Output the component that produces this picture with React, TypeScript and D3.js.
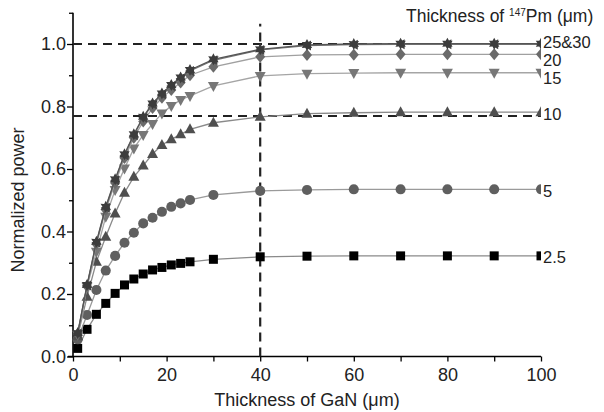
import React, {useEffect, useRef} from 'react';
import * as d3 from "d3";

// GaN thickness (um)
const thickness = [1, 3, 5, 7, 9, 11, 13, 15, 17, 19, 21, 23, 25, 30, 40, 50, 60, 70, 80, 90, 100];

const pm2_5 = [0.026, 0.087, 0.135, 0.170, 0.202, 0.229, 0.248, 0.264, 0.277, 0.285, 0.293, 0.298, 0.303, 0.311, 0.319, 0.321, 0.322, 0.322, 0.322, 0.322, 0.322];
const pm5 = [0.055, 0.133, 0.213, 0.275, 0.322, 0.364, 0.396, 0.426, 0.444, 0.463, 0.479, 0.490, 0.501, 0.517, 0.530, 0.533, 0.535, 0.535, 0.535, 0.535, 0.535];
const pm10 = [0.065, 0.191, 0.303, 0.383, 0.458, 0.524, 0.575, 0.611, 0.648, 0.677, 0.695, 0.711, 0.727, 0.748, 0.767, 0.777, 0.780, 0.782, 0.782, 0.782, 0.782];
const pm15 = [0.070, 0.223, 0.335, 0.447, 0.533, 0.602, 0.666, 0.709, 0.744, 0.778, 0.802, 0.821, 0.834, 0.866, 0.898, 0.905, 0.907, 0.908, 0.908, 0.908, 0.908];
const pm20 = [0.072, 0.225, 0.360, 0.470, 0.555, 0.635, 0.700, 0.752, 0.795, 0.828, 0.853, 0.877, 0.900, 0.927, 0.959, 0.965, 0.966, 0.967, 0.967, 0.967, 0.967];
const pm25 = [0.074, 0.227, 0.364, 0.476, 0.564, 0.644, 0.708, 0.764, 0.807, 0.839, 0.866, 0.890, 0.914, 0.948, 0.981, 0.995, 0.998, 0.999, 0.999, 0.999, 0.999];
const pm30 = [0.075, 0.229, 0.367, 0.479, 0.567, 0.647, 0.711, 0.767, 0.810, 0.842, 0.869, 0.893, 0.917, 0.951, 0.983, 0.997, 1.000, 1.001, 1.001, 1.001, 1.001];

const series = [
    {name: "2.5", values: pm2_5, symbol: "square", color: "#000000", line: "#8a8a8a"},
    {name: "5", values: pm5, symbol: "circle", color: "#5f5f5f", line: "#9a9a9a"},
    {name: "10", values: pm10, symbol: "triUp", color: "#4f4f4f", line: "#8a8a8a"},
    {name: "15", values: pm15, symbol: "triDown", color: "#777777", line: "#a5a5a5"},
    {name: "20", values: pm20, symbol: "diamond", color: "#6a6a6a", line: "#a0a0a0"},
    {name: "25", values: pm25, symbol: "triLeft", color: "#444444", line: "#777777"},
    {name: "30", values: pm30, symbol: "star", color: "#3c3c3c", line: "#555555"},
];

const endLabels = [
    {text: "25&30", value: 1.006},
    {text: "20", value: 0.949},
    {text: "15", value: 0.891},
    {text: "10", value: 0.777},
    {text: "5", value: 0.53},
    {text: "2.5", value: 0.317},
];

const dashedY = [1.0, 0.77];
const dashedX = 40;

const FONT = "Arial, 'Liberation Sans', sans-serif";

function markerPath(kind: string): string {
    const r = 5;
    switch (kind) {
        case "square":
            return `M${-4.5},${-4.5}h9v9h-9Z`;
        case "circle":
            return d3.symbol(d3.symbolCircle, 80)() as string;
        case "triUp":
            return `M0,${-r - 1}L${r + 0.5},${r - 1}L${-r - 0.5},${r - 1}Z`;
        case "triDown":
            return `M0,${r + 1}L${r + 0.5},${-r + 1}L${-r - 0.5},${-r + 1}Z`;
        case "triLeft":
            return `M${-r},0L${r - 1},${-r}L${r - 1},${r}Z`;
        case "diamond":
            return `M0,${-r - 1}L${r},0L0,${r + 1}L${-r},0Z`;
        default: {
            // six-pointed star
            const pts: string[] = [];
            for (let i = 0; i < 12; i++) {
                const a = Math.PI / 6 * i - Math.PI / 2;
                const rr = i % 2 === 0 ? 6 : 3.3;
                pts.push(`${(rr * Math.cos(a)).toFixed(2)},${(rr * Math.sin(a)).toFixed(2)}`);
            }
            return "M" + pts.join("L") + "Z";
        }
    }
}

export default function App() {
    const svgRef = useRef<SVGSVGElement>(null);

    useEffect(() => {
        const svg = d3.select(svgRef.current);
        svg.selectAll("*").remove();

        const x = d3.scaleLinear().domain([0, 100]).range([73, 541]);
        const y = d3.scaleLinear().domain([0, 1.1]).range([356.5, 12.75]);

        svg.append("defs").append("clipPath").attr("id", "plotclip")
            .append("rect").attr("x", 60).attr("y", 0).attr("width", 541 - 60).attr("height", 360);

        // x axis
        const xAxis = svg.append("g").attr("transform", "translate(0,356.5)")
            .call(d3.axisBottom(x).tickValues(d3.range(0, 101, 10)).tickSize(5)
                .tickFormat(d => (+d % 20 === 0 ? String(d) : "")));
        xAxis.select(".domain").attr("stroke-width", 1.6).attr("d", "M68,0H541");
        xAxis.selectAll(".tick line").attr("stroke-width", 1.3);
        xAxis.selectAll(".tick text").attr("font-family", FONT).attr("font-size", 18).attr("fill", "#222").attr("dy", "0.9em");

        // y axis
        const yAxis = svg.append("g").attr("transform", "translate(73,0)")
            .call(d3.axisLeft(y).tickValues(d3.range(0, 11).map(i => i / 10).concat([1.1])).tickSize(5)
                .tickFormat(d => (Math.round(+d * 10) % 2 === 0 && +d <= 1.0 ? d3.format(".1f")(+d) : "")));
        yAxis.select(".domain").attr("stroke-width", 1.6).attr("d", "M0,12.75V356.5");
        yAxis.selectAll(".tick line").attr("stroke-width", 1.3)
            .attr("x2", d => (Math.round(+d * 10) % 2 === 0 ? -6 : -4));
        yAxis.selectAll(".tick text").attr("font-family", FONT).attr("font-size", 18).attr("fill", "#222").attr("x", -7);

        // reference dashed lines
        const ref = svg.append("g").attr("stroke", "#222").attr("stroke-width", 2).attr("stroke-dasharray", "9,6").attr("fill", "none");
        dashedY.forEach(v => {
            ref.append("line").attr("x1", x(0)).attr("x2", x(100)).attr("y1", y(v)).attr("y2", y(v));
        });
        ref.append("line").attr("x1", x(dashedX)).attr("x2", x(dashedX)).attr("y1", y(0)).attr("y2", y(1.065))
            .attr("stroke-width", 2.2);

        const plot = svg.append("g").attr("clip-path", "url(#plotclip)");
        const line = d3.line<number>().x((d, i) => x(thickness[i])).y(d => y(d));

        series.forEach(s => {
            const g = plot.append("g");
            g.append("path").attr("d", line(s.values)).attr("fill", "none")
                .attr("stroke", s.line).attr("stroke-width", 1.3);
            g.selectAll("path.m").data(s.values).join("path").attr("class", "m")
                .attr("d", markerPath(s.symbol))
                .attr("transform", (d, i) => `translate(${x(thickness[i])},${y(d)})`)
                .attr("fill", s.color);
        });

        // end labels
        svg.append("g").selectAll("text").data(endLabels).join("text")
            .attr("x", 543).attr("y", d => y(d.value)).attr("dy", "0.36em")
            .attr("font-family", FONT).attr("font-size", 16.5).attr("fill", "#222")
            .text(d => d.text);

        // legend title
        const title = svg.append("text").attr("x", 406).attr("y", 22)
            .attr("font-family", FONT).attr("font-size", 17.5).attr("fill", "#222");
        title.append("tspan").text("Thickness of ");
        title.append("tspan").attr("font-size", 10).attr("dy", -6).text("147");
        title.append("tspan").attr("dy", 6).text("Pm (\u03bcm)");

        // axis titles
        svg.append("text").attr("x", 307).attr("y", 406).attr("text-anchor", "middle")
            .attr("font-family", FONT).attr("font-size", 18).attr("fill", "#222")
            .text("Thickness of GaN (\u03bcm)");
        svg.append("text").attr("transform", "translate(24,200) rotate(-90)").attr("text-anchor", "middle")
            .attr("font-family", FONT).attr("font-size", 18).attr("fill", "#222")
            .text("Normalized power");
    }, []);

    return (
        <svg ref={svgRef} width={604} height={412}
             style={{position: "absolute", left: 0, top: 0, background: "#fff"}}/>
    );
}
